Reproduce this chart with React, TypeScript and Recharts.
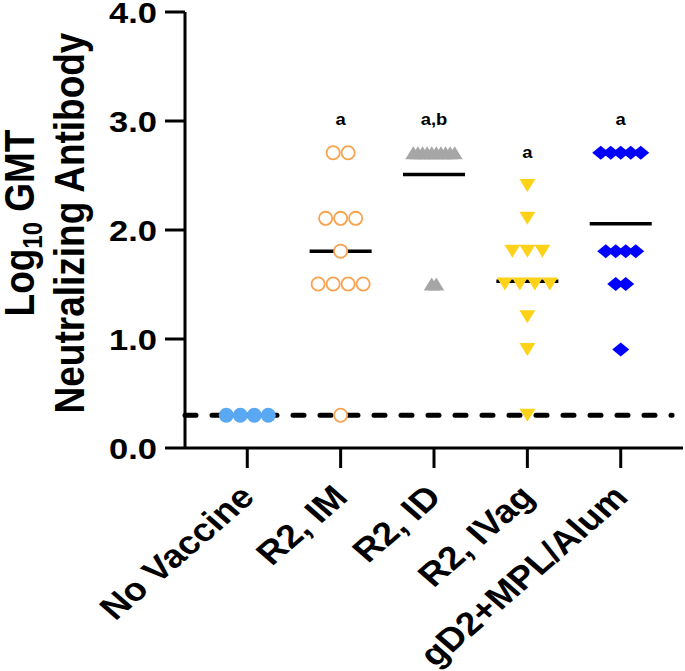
import { ReferenceLine, Scatter, ScatterChart, XAxis, YAxis } from "recharts";

// log10 GMT values per group
const groups = ["No Vaccine", "R2, IM", "R2, ID", "R2, IVag", "gD2+MPL/Alum"];
const noVaccine = [0.301, 0.301, 0.301, 0.301];
const r2IM = [2.709, 2.709, 2.107, 2.107, 2.107, 1.806, 1.505, 1.505, 1.505, 1.505, 0.301];
const r2ID = [2.709, 2.709, 2.709, 2.709, 2.709, 2.709, 2.709, 2.709, 2.709, 2.709, 1.505, 1.505];
const r2IVag = [2.408, 2.107, 1.806, 1.806, 1.806, 1.505, 1.505, 1.505, 1.505, 1.204, 0.903, 0.301];
const gD2 = [2.709, 2.709, 2.709, 2.709, 2.709, 1.806, 1.806, 1.806, 1.806, 1.505, 1.505, 0.903];
const sigLabels = ["", "a", "a,b", "a", "a"];
const limitOfDetection = 0.301;
const yTicks = [0, 1, 2, 3, 4];

const groupValues = [noVaccine, r2IM, r2ID, r2IVag, gD2];

const FONT = "'Liberation Sans', Arial, Helvetica, sans-serif";
// the original figure's text is a bit wider than it is tall
const SX = 1.15;

const markerStyles = [
  { marker: "dot", color: "#5AA7F2", spacing: 14 },
  { marker: "ring", color: "#F7A350", spacing: 15 },
  { marker: "up", color: "#A6A6A6", spacing: 4.6 },
  { marker: "down", color: "#FFD21A", spacing: 15 },
  { marker: "diamond", color: "#0000FF", spacing: 10 },
];

// spread identical values side by side, like a column scatter
const toPoints = (values: number[], gi: number) => {
  const counts: Record<string, number> = {};
  values.forEach((v) => (counts[v] = (counts[v] || 0) + 1));
  const seen: Record<string, number> = {};
  return values.map((v) => {
    const k = seen[v] || 0;
    seen[v] = k + 1;
    return { x: gi, y: v, k, n: counts[v] };
  });
};

const mean = (a: number[]) => a.reduce((s, v) => s + v, 0) / a.length;

const meanData = groupValues.map((vals, i) => ({ x: i, y: mean(vals) }));
const labelData = groupValues
  .map((vals, i) => ({ x: i, y: Math.max(...vals), text: sigLabels[i] }))
  .filter((d) => d.text);

const makeShape = (st: { marker: string; color: string; spacing: number }) => (props: any) => {
  const { cx, cy, payload } = props;
  if (cx == null || cy == null) return null;
  const x = cx + (payload.k - (payload.n - 1) / 2) * st.spacing;
  switch (st.marker) {
    case "dot":
      return <circle cx={x} cy={cy} r={7.5} fill={st.color} />;
    case "ring":
      return <circle cx={x} cy={cy} r={6.6} fill="#fff" stroke={st.color} strokeWidth={1.8} />;
    case "up":
      return <polygon points={`${x - 8},${cy + 6.5} ${x + 8},${cy + 6.5} ${x},${cy - 6.5}`} fill={st.color} />;
    case "down":
      return <polygon points={`${x - 8},${cy - 6.5} ${x + 8},${cy - 6.5} ${x},${cy + 6.5}`} fill={st.color} />;
    default:
      return <polygon points={`${x - 8.5},${cy} ${x},${cy - 7} ${x + 8.5},${cy} ${x},${cy + 7}`} fill={st.color} />;
  }
};

const MeanBar = (props: any) => {
  const { cx, cy } = props;
  if (cx == null || cy == null) return null;
  return <line x1={cx - 31} x2={cx + 31} y1={cy} y2={cy} stroke="#000" strokeWidth={3.5} />;
};

const SigLabel = (props: any) => {
  const { cx, cy, payload } = props;
  if (cx == null || cy == null) return null;
  return (
    <text
      transform={`translate(${cx}, ${cy - 28}) scale(${SX}, 1)`}
      textAnchor="middle"
      fontFamily={FONT}
      fontWeight="bold"
      fontSize={16}
      fill="#000"
    >
      {payload.text}
    </text>
  );
};

const XTick = (props: any) => {
  const { x, y, payload } = props;
  const ax = x + 9;
  const ay = y + 29;
  return (
    <text
      transform={`translate(${ax}, ${ay}) scale(${SX}, 1) rotate(-45)`}
      textAnchor="end"
      fontFamily={FONT}
      fontWeight="bold"
      fontSize={32.5}
      fill="#000"
    >
      {groups[payload.value]}
    </text>
  );
};

const YTick = (props: any) => {
  const { x, y, payload } = props;
  return (
    <text
      transform={`translate(${x}, ${y}) scale(${SX}, 1)`}
      dy="0.36em"
      textAnchor="end"
      fontFamily={FONT}
      fontWeight="bold"
      fontSize={30}
      fill="#000"
    >
      {Number(payload.value).toFixed(1)}
    </text>
  );
};

const YTitle = () => (
  <text
    transform={`translate(0, 223) scale(${SX}, 1) rotate(-90)`}
    textAnchor="middle"
    fontFamily={FONT}
    fontWeight="bold"
    fontSize={37}
    fill="#000"
  >
    <tspan x={0} y={29.5}>
      Log
      <tspan fontSize={24} dy={7}>
        10
      </tspan>
      <tspan dy={-7}> GMT</tspan>
    </tspan>
    <tspan x={0} y={73}>
      Neutralizing Antibody
    </tspan>
  </text>
);

export default function App() {
  return (
    <div style={{ position: "absolute", left: 0, top: 0, background: "#fff" }}>
      <ScatterChart width={685} height={671} margin={{ top: 12, right: 2, bottom: 0, left: 0 }}>
        <XAxis
          type="number"
          dataKey="x"
          domain={[-0.667, 4.667]}
          ticks={[0, 1, 2, 3, 4]}
          allowDataOverflow
          height={223}
          tickSize={20}
          tickLine={{ stroke: "#000", strokeWidth: 3 }}
          axisLine={{ stroke: "#000", strokeWidth: 3 }}
          tick={<XTick />}
          interval={0}
        />
        <YAxis
          type="number"
          dataKey="y"
          domain={[0, 4]}
          ticks={yTicks}
          width={185}
          tickSize={20}
          tickMargin={8}
          tickLine={{ stroke: "#000", strokeWidth: 3 }}
          axisLine={{ stroke: "#000", strokeWidth: 3 }}
          tick={<YTick />}
          label={{ content: () => <YTitle /> }}
        />
        <Scatter data={meanData} shape={<MeanBar />} isAnimationActive={false} />
        {groupValues.map((vals, i) => (
          <Scatter
            key={groups[i]}
            name={groups[i]}
            data={toPoints(vals, i)}
            shape={makeShape(markerStyles[i])}
            isAnimationActive={false}
          />
        ))}
        <Scatter data={labelData} shape={<SigLabel />} isAnimationActive={false} />
        <ReferenceLine
          segment={[
            { x: -0.667, y: limitOfDetection },
            { x: 4.55, y: limitOfDetection },
          ]}
          stroke="#000"
          strokeWidth={5}
          strokeDasharray="11 16"
          strokeLinecap="round"
        />
      </ScatterChart>
    </div>
  );
}
